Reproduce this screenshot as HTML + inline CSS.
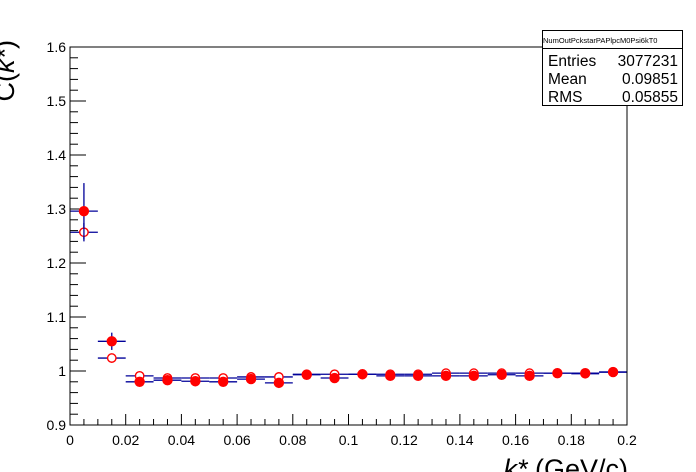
<!DOCTYPE html>
<html><head><meta charset="utf-8"><style>
html,body{margin:0;padding:0;background:#fff;}
svg{display:block;font-family:"Liberation Sans",sans-serif;}
</style></head><body>
<svg id="chart" width="696" height="472">
<rect x="0" y="0" width="696" height="472" fill="#fff"/>
<g id="axes"></g>
<g id="marks"></g>
<rect x="70" y="47" width="557" height="378" fill="none" stroke="#000" stroke-width="1"/>
<text x="628" y="478" font-size="27" text-anchor="end"><tspan font-style="italic">k*</tspan> (GeV/c)</text>
<text transform="translate(14,40) rotate(-90)" font-size="27" text-anchor="end">C(<tspan font-style="italic">k*</tspan>)</text>
<g>
<rect x="542.5" y="30.5" width="140" height="75" fill="#fff" stroke="#000"/>
<line x1="542.5" y1="48.5" x2="682.5" y2="48.5" stroke="#000"/>
<text x="543" y="43" font-size="7.5">NumOutPckstarPAPlpcM0Psi6kT0</text>
<text x="548" y="66" font-size="15.5">Entries</text>
<text x="678" y="66" font-size="15.5" text-anchor="end">3077231</text>
<text x="548" y="84" font-size="15.5">Mean</text>
<text x="678" y="84" font-size="15.5" text-anchor="end">0.09851</text>
<text x="548" y="102" font-size="15.5">RMS</text>
<text x="678" y="102" font-size="15.5" text-anchor="end">0.05855</text>
</g>
</svg>
<script>
const binCenters=[0.005,0.015,0.025,0.035,0.045,0.055,0.065,0.075,0.085,0.095,0.105,0.115,0.125,0.135,0.145,0.155,0.165,0.175,0.185,0.195];
const filledValues=[1.296,1.055,0.980,0.983,0.981,0.980,0.985,0.978,0.993,0.987,0.994,0.991,0.991,0.991,0.991,0.993,0.991,0.996,0.996,0.998];
const filledErrors=[0.052,0.016,0.006,0.005,0.004,0.004,0.004,0.003,0.003,0.003,0.003,0.003,0.003,0.003,0.003,0.003,0.003,0.003,0.003,0.003];
const openValues=[1.257,1.024,0.991,0.987,0.987,0.987,0.989,0.989,0.994,0.994,0.994,0.994,0.994,0.996,0.996,0.996,0.996,0.996,0.995,0.998];
const openErrors=[0.017,0.005,0.002,0.002,0.002,0.002,0.002,0.002,0.002,0.002,0.002,0.002,0.002,0.002,0.002,0.002,0.002,0.002,0.002,0.002];
const xTicks=[0,0.02,0.04,0.06,0.08,0.1,0.12,0.14,0.16,0.18,0.2];
const xTickLabels=["0","0.02","0.04","0.06","0.08","0.1","0.12","0.14","0.16","0.18","0.2"];
const yTicks=[0.9,1.0,1.1,1.2,1.3,1.4,1.5,1.6];
const yTickLabels=["0.9","1","1.1","1.2","1.3","1.4","1.5","1.6"];
const binWidth=0.01;
const X0=70,X1=627,Y0=425,Y1=47;
function xs(v){return X0+(v-0)/(0.2-0)*(X1-X0);}
function ys(v){return Y0-(v-0.9)/(1.6-0.9)*(Y0-Y1);}
const NS="http://www.w3.org/2000/svg";
function mk(tag,attrs,parent){const e=document.createElementNS(NS,tag);for(const k in attrs)e.setAttribute(k,attrs[k]);parent.appendChild(e);return e;}
const axes=document.getElementById('axes'),marks=document.getElementById('marks');
for(let i=0;i<xTicks.length;i++){
  const x=xs(xTicks[i]);
  const t=mk('line',{x1:x,y1:Y0,x2:x,y2:Y0-11,stroke:'#000'},axes);
  
  
  const l=mk('text',{x:x,y:Y0+20,'font-size':14,'text-anchor':'middle'},axes);
  l.textContent=xTickLabels[i];
  
  
  if(i<xTicks.length-1){for(let j=1;j<4;j++){const xm=xs(xTicks[i]+(xTicks[i+1]-xTicks[i])*j/4);
    const m=mk('line',{x1:xm,y1:Y0,x2:xm,y2:Y0-6,stroke:'#000'},axes);
    
    }}
}
for(let i=0;i<yTicks.length;i++){
  const y=ys(yTicks[i]);
  const t=mk('line',{x1:X0,y1:y,x2:X0+16,y2:y,stroke:'#000'},axes);
  
  
  const l=mk('text',{x:X0-4,y:y+5,'font-size':14,'text-anchor':'end'},axes);
  l.textContent=yTickLabels[i];
  
  
  if(i<yTicks.length-1){for(let j=1;j<5;j++){const ym=ys(yTicks[i]+(yTicks[i+1]-yTicks[i])*j/5);
    const m=mk('line',{x1:X0,y1:ym,x2:X0+8,y2:ym,stroke:'#000'},axes);
    
    }}
}
function series(vals,errs,filled,name){
  for(let i=0;i<binCenters.length;i++){
    const cx=xs(binCenters[i]),cy=ys(vals[i]);
    const h=mk('line',{x1:xs(binCenters[i]-binWidth/2),y1:cy,x2:xs(binCenters[i]+binWidth/2),y2:cy,stroke:'#000099','stroke-width':1.3},marks);
    
    
    const v=mk('line',{x1:cx,y1:ys(vals[i]+errs[i]),x2:cx,y2:ys(vals[i]-errs[i]),stroke:'#000099','stroke-width':1.3},marks);
    
    
  }
  for(let i=0;i<binCenters.length;i++){
    const c=mk('circle',{cx:xs(binCenters[i]),cy:ys(vals[i]),r:filled?4.5:4.2,fill:filled?'#ff0000':'#fff',stroke:'#ff0000','stroke-width':1.4},marks);
    
    
  }
}
series(openValues,openErrors,false,'open-series');
series(filledValues,filledErrors,true,'filled-series');
</script>
</body></html>
